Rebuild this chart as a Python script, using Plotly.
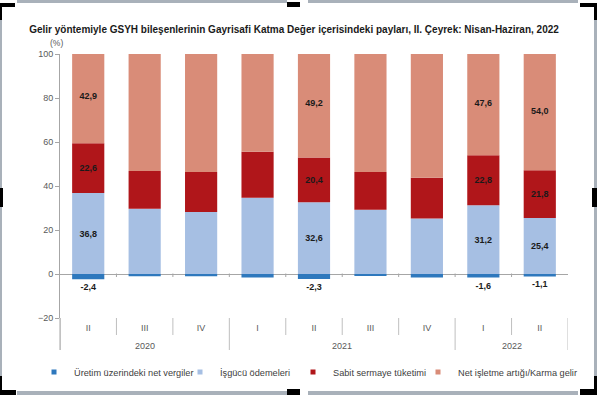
import plotly.graph_objects as go

# ---- data ----
years = ["2020", "2020", "2020", "2021", "2021", "2021", "2021", "2022", "2022"]
quarters = ["II", "III", "IV", "I", "II", "III", "IV", "I", "II"]
year_labels = ["2020", "2021", "2022"]

series_names = ["Üretim üzerindeki net vergiler", "İşgücü ödemeleri",
                "Sabit sermaye tüketimi", "Net işletme artığı/Karma gelir"]

net_taxes = [-2.4, -1.0, -1.0, -1.6, -2.3, -0.8, -1.6, -1.6, -1.1]
labour = [36.8, 29.7, 28.2, 34.7, 32.6, 29.2, 25.2, 31.2, 25.4]
capital = [22.6, 17.1, 18.2, 20.9, 20.4, 17.2, 18.6, 22.8, 21.8]
net_op = [42.9, 54.2, 54.6, 46.0, 49.2, 54.4, 57.8, 47.6, 54.0]

# which bars carry a data label (reference only labels these quarters)
labelled = [True, False, False, False, True, False, False, True, True]

y_ticks = [-20, 0, 20, 40, 60, 80, 100]

colors = ["#2E78BD", "#A6BFE3", "#B0161A", "#D98C78"]

# ---- figure ----
W, H = 597, 395
L, R, T, B = 60, 29, 54, 77
PW, PH = W - L - R, H - T - B


def px(x):
    return (x - L) / PW


def py(y):
    return (H - B - y) / PH


def fmt(v, show):
    return f"{v:.1f}".replace(".", ",") if show else ""


cats = [f"{y} {q}" for y, q in zip(years, quarters)]
n = len(cats)

fig = go.Figure()
values = [net_taxes, labour, capital, net_op]
for i, (name, vals) in enumerate(zip(series_names, values)):
    fig.add_trace(go.Bar(
        x=cats, y=vals, name=name,
        marker=dict(color=colors[i], line=dict(width=0)),
        width=0.57,
        text=[fmt(v, s) for v, s in zip(vals, labelled)],
        textposition="outside" if i == 0 else "inside",
        insidetextanchor="middle",
        textangle=0,
        constraintext="none",
        textfont=dict(family="Liberation Sans", size=9, color="#1a1a1a", weight="bold"),
        outsidetextfont=dict(family="Liberation Sans", size=9, color="#1a1a1a", weight="bold"),
        hoverinfo="skip",
        showlegend=False,
    ))

# legend entries: one small square per series, each in its own legend box
legend_text_x = [68, 214, 327, 452]
legend_keys = ["legend", "legend2", "legend3", "legend4"]
for i, name in enumerate(series_names):
    fig.add_trace(go.Scatter(
        x=[None], y=[None], mode="markers", name=name,
        marker=dict(symbol="square", size=5, color=colors[i]),
        legend=legend_keys[i], showlegend=True, hoverinfo="skip",
    ))

legend_style = dict(
    orientation="h", xanchor="left", y=py(372), yanchor="middle",
    font=dict(family="Liberation Sans", size=9.2, color="#404040"),
    itemwidth=30, itemclick=False, itemdoubleclick=False,
    bgcolor="rgba(0,0,0,0)", borderwidth=0,
)
legends = {}
for key, tx in zip(legend_keys, legend_text_x):
    legends[key] = dict(legend_style, x=px(tx - 34))

shapes = []
sep_color = "#bfbfbf"
# category boundaries: short separators between quarters, long ones between years
for b in range(n + 1):
    is_year_edge = b == 0 or b == n or years[b] != years[b - 1]
    bottom = 350 if is_year_edge else 335
    shapes.append(dict(type="line", xref="x", yref="paper",
                       x0=b - 0.5, x1=b - 0.5, y0=0, y1=py(bottom),
                       line=dict(color=sep_color, width=1)))
    if 0 < b < n:
        shapes.append(dict(type="line", xref="x", yref="paper",
                           x0=b - 0.5, x1=b - 0.5, y0=py(273.5), y1=py(277),
                           line=dict(color="#a6a6a6", width=1)))
# extension of y-axis line below the plot area
shapes.append(dict(type="line", xref="paper", yref="paper", x0=0, x1=0,
                   y0=0, y1=py(350), line=dict(color="#a6a6a6", width=1)))

# image selection frame (gray border and black handles)
gray = "#A9B1BA"
black = "#000000"


def rect(x0, y0, x1, y1, c):
    shapes.append(dict(type="rect", xref="paper", yref="paper",
                       x0=px(x0), x1=px(x1), y0=py(y0), y1=py(y1),
                       fillcolor=c, line=dict(width=0), layer="above"))


rect(17, 0, 287, 3, gray)
rect(308, 0, 578, 3, gray)
rect(287, 2, 300, 7, black)
rect(0, 3, 15, 7, black)
rect(0, 3, 2, 20, black)
rect(580, 3, 597, 7, black)
rect(594, 3, 597, 20, black)
rect(0, 20, 2, 376, gray)
rect(594, 20, 597, 376, gray)
rect(0, 188, 3, 207, black)
rect(592, 188, 597, 207, black)
rect(0, 376, 2, 395, black)
rect(0, 390, 16, 395, black)
rect(17, 391, 287, 395, gray)
rect(308, 391, 578, 395, gray)
rect(287, 389, 300, 395, black)
rect(580, 389, 597, 395, black)
rect(594, 376, 597, 395, black)

annotations = [dict(text="(%)", xref="paper", yref="paper",
                    x=px(56), y=py(43), showarrow=False,
                    xanchor="center", yanchor="middle",
                    font=dict(family="Liberation Sans", size=8.5, color="#595959"))]
# year labels centred under their quarters (positions from the category axis)
for yl in year_labels:
    idx = [k for k, y in enumerate(years) if y == yl]
    annotations.append(dict(text=yl, xref="x", yref="paper",
                            x=(idx[0] + idx[-1]) / 2, y=py(346),
                            showarrow=False, xanchor="center", yanchor="middle",
                            font=dict(family="Liberation Sans", size=9, color="#595959")))

fig.update_layout(
    width=W, height=H,
    margin=dict(l=L, r=R, t=T, b=B, pad=0, autoexpand=False),
    barmode="relative",
    bargap=0.43,
    plot_bgcolor="white", paper_bgcolor="white",
    font=dict(family="Liberation Sans", size=9, color="#595959"),
    title=dict(
        text="<b>Gelir yöntemiyle GSYH bileşenlerinin Gayrisafi Katma Değer içerisindeki payları, II. Çeyrek: Nisan-Haziran, 2022</b>",
        x=294 / W, xanchor="center", y=1 - 29 / H, yanchor="middle",
        font=dict(family="Liberation Sans", size=10, color="#1a1a1a"),
    ),
    showlegend=True,
    xaxis=dict(
        type="category", automargin=False,
        range=[-0.5, n - 0.5],
        tickvals=cats, ticktext=quarters,
        showline=False, showgrid=False, zeroline=False,
        ticks="", ticklabelstandoff=3,
        tickfont=dict(family="Liberation Sans", size=9, color="#595959"),
    ),
    yaxis=dict(
        range=[-20, 100], tickvals=y_ticks, automargin=False,
        showline=True, linecolor="#a6a6a6", linewidth=1,
        ticks="outside", ticklen=4, tickcolor="#a6a6a6",
        showgrid=False,
        zeroline=True, zerolinecolor="#a6a6a6", zerolinewidth=1,
        tickfont=dict(family="Liberation Sans", size=9, color="#595959"),
    ),
    shapes=shapes,
    annotations=annotations,
    **legends,
)

fig.write_html("out.html", config={"displayModeBar": False},
               post_script="document.body.style.margin='0px';")
